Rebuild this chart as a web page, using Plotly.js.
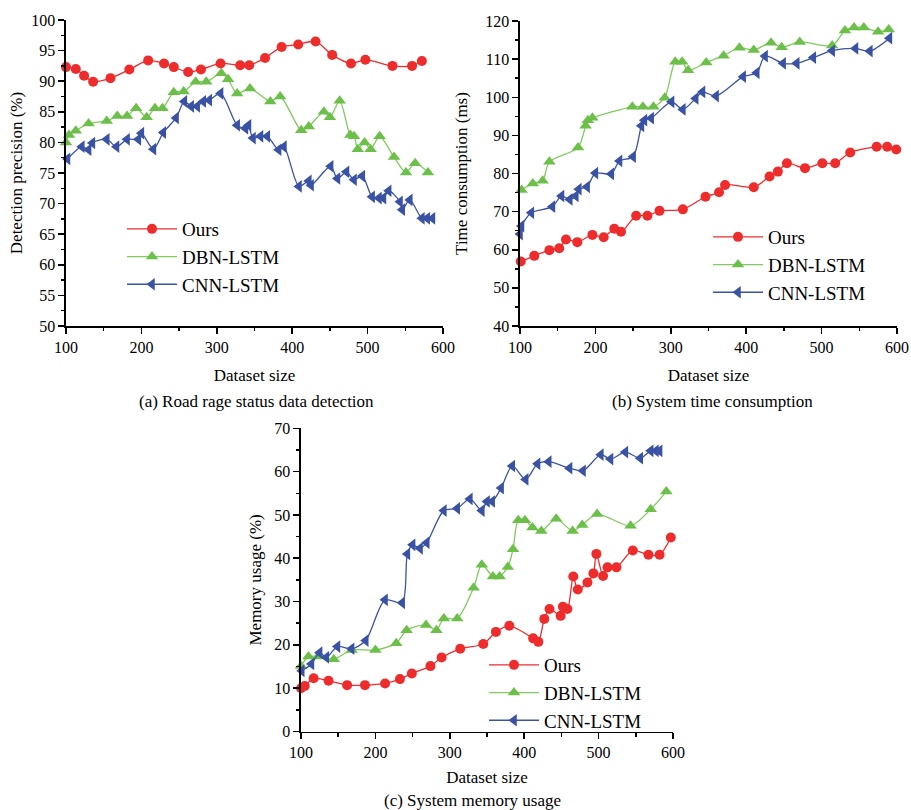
<!DOCTYPE html>
<html>
<head>
<meta charset="utf-8">
<script src="https://cdn.plot.ly/plotly-3.0.1.min.js"></script>
<style>html,body{margin:0;padding:0;background:#fff;}#chart{width:911px;height:810px;}</style>
</head>
<body>
<div id="chart"></div>
<script>
// ---------- Data ----------
const seriesNames = ["Ours", "DBN-LSTM", "CNN-LSTM"];
const xTickVals = [100, 200, 300, 400, 500, 600];

// (a) Road rage status data detection — Detection precision (%)
const oursA_x = [100,113,124,136,159,184,209,230,243,262,279,305,331,343,364,386,408,431,453,478,497,533,559,572];
const oursA_y = [92.3,92.0,90.9,89.9,90.5,91.9,93.4,92.9,92.3,91.5,91.9,92.9,92.6,92.6,93.8,95.6,96.0,96.5,94.3,92.9,93.5,92.5,92.5,93.3];
const dbnA_x = [100,104,113,130,154,168,181,193,207,218,228,243,256,272,286,306,315,327,344,371,384,412,422,442,450,463,477,482,487,496,504,516,535,551,563,580];
const dbnA_y = [80.0,81.2,81.9,83.1,83.5,84.3,84.3,85.6,84.1,85.6,85.6,88.2,88.3,89.9,89.9,91.3,90.3,88.0,88.8,86.7,87.5,82.0,82.6,85.0,84.1,86.8,81.2,81.0,78.9,80.0,78.9,81.0,77.6,75.1,76.6,75.1];
const cnnA_x = [102,121,130,135,154,167,181,196,200,216,229,246,257,266,274,282,290,305,327,338,342,348,358,367,382,389,409,422,425,451,460,472,482,493,506,515,521,528,543,546,556,572,579,586];
const cnnA_y = [77.3,79.3,78.8,79.9,80.5,79.3,80.5,80.5,81.5,78.9,81.6,84.0,86.7,85.9,85.9,86.7,86.9,88.0,82.8,82.3,82.8,80.7,81.0,81.0,78.8,79.3,72.8,73.7,73.0,76.1,74.1,75.2,73.9,74.5,71.1,70.9,70.9,72.1,70.3,69.0,70.6,67.6,67.6,67.6];

// (b) System time consumption — Time consumption (ms)
const oursB_x = [101,119,139,152,161,176,196,211,225,234,254,269,285,316,346,364,372,410,431,442,454,478,501,518,538,573,587,599];
const oursB_y = [56.9,58.4,59.9,60.4,62.7,62.0,63.9,63.3,65.5,64.7,68.9,68.9,70.2,70.6,73.9,75.1,77.0,76.4,79.2,80.5,82.7,81.4,82.7,82.7,85.5,87.0,87.0,86.3];
const dbnB_x = [102,117,130,139,177,187,190,196,249,263,277,292,306,315,323,347,370,391,410,433,447,471,514,531,543,556,575,589];
const dbnB_y = [75.7,77.4,78.1,83.1,86.8,92.5,94.0,94.6,97.5,97.5,97.5,99.9,109.3,109.3,107.1,109.1,110.9,113.0,112.4,114.3,113.1,114.5,113.6,117.5,118.3,118.3,117.2,117.8];
const cnnB_x = [100,102,115,143,155,166,174,178,189,200,221,232,250,261,265,274,301,316,333,342,360,396,414,425,449,467,489,514,545,564,590];
const cnnB_y = [64.1,66.2,69.7,71.3,74.1,73.2,74.1,75.9,76.5,80.1,79.9,83.3,84.4,92.5,94.0,94.5,98.8,96.8,99.7,101.4,100.3,105.4,106.4,110.8,108.9,108.9,110.4,112.2,112.8,112.1,115.5];

// (c) System memory usage — Memory usage (%)
const oursC_x = [100,105,117,137,162,186,213,233,249,274,289,314,345,362,380,412,419,427,434,449,452,458,466,472,485,493,497,506,512,524,546,567,582,597];
const oursC_y = [10.0,10.5,12.3,11.7,10.7,10.7,11.1,12.1,13.4,15.1,17.1,19.1,20.2,23.0,24.4,21.5,20.7,26.0,28.3,26.7,28.8,28.3,35.8,32.8,34.4,36.5,41.0,35.9,37.9,37.9,41.8,40.8,40.8,44.8];
const dbnC_x = [100,110,123,144,168,200,228,242,268,282,292,310,332,343,358,367,378,385,392,401,411,423,443,465,478,498,543,570,591];
const dbnC_y = [15.1,17.3,17.3,16.7,18.8,18.8,20.4,23.4,24.6,23.4,26.1,26.1,33.2,38.5,35.8,35.8,38.0,42.1,48.8,48.8,47.1,46.3,49.1,46.3,47.7,50.2,47.5,51.3,55.4];
const cnnC_x = [101,114,125,134,149,168,187,213,236,243,250,260,269,292,310,327,343,350,357,369,384,402,418,433,461,479,503,516,536,556,570,577,582];
const cnnC_y = [14.0,15.6,18.2,17.1,19.6,19.1,21.0,30.4,29.7,41.0,43.1,42.3,43.6,51.0,51.5,53.7,51.0,53.1,53.1,56.2,61.3,58.2,61.8,62.3,60.8,60.2,63.9,62.9,64.5,63.1,64.8,64.8,64.8];

// ---------- Styling ----------
const FONT = "Liberation Serif, Times New Roman, serif";
const colors = {ours: "#ee2c2c", dbn: "#6cc04a", dbnLine: "#7fcb5c", cnn: "#3a52a4"};
const W = 911, H = 810;
const px = v => v / W;
const py = v => 1 - v / H;

function mk(name, x, y, xa, ya, legend, kind) {
  let marker, line;
  if (kind === 0) {
    marker = {symbol: "circle", size: 10, color: colors.ours};
    line = {color: colors.ours, width: 1.3, shape: "spline", smoothing: 0.8};
  } else if (kind === 1) {
    marker = {symbol: "triangle-up", size: 11, color: colors.dbn};
    line = {color: colors.dbnLine, width: 1.3, shape: "spline", smoothing: 0.8};
  } else {
    marker = {symbol: "triangle-left", size: 11, color: colors.cnn};
    line = {color: colors.cnn, width: 1.3, shape: "spline", smoothing: 0.8};
  }
  return {type: "scatter", mode: "lines+markers", name, x, y, xaxis: xa, yaxis: ya,
          legend, marker, line, cliponaxis: false, showlegend: true};
}

const traces = [
  mk(seriesNames[0], oursA_x, oursA_y, "x", "y", "legend", 0),
  mk(seriesNames[1], dbnA_x, dbnA_y, "x", "y", "legend", 1),
  mk(seriesNames[2], cnnA_x, cnnA_y, "x", "y", "legend", 2),
  mk(seriesNames[0], oursB_x, oursB_y, "x2", "y2", "legend2", 0),
  mk(seriesNames[1], dbnB_x, dbnB_y, "x2", "y2", "legend2", 1),
  mk(seriesNames[2], cnnB_x, cnnB_y, "x2", "y2", "legend2", 2),
  mk(seriesNames[0], oursC_x, oursC_y, "x3", "y3", "legend3", 0),
  mk(seriesNames[1], dbnC_x, dbnC_y, "x3", "y3", "legend3", 1),
  mk(seriesNames[2], cnnC_x, cnnC_y, "x3", "y3", "legend3", 2)
];

const tickFont = {family: FONT, size: 16, color: "#000"};
const titleFont = {family: FONT, size: 17, color: "#000"};

function xAxis(domain, anchor, standoff) {
  return {domain, anchor, range: [100, 600], tickvals: xTickVals, ticktext: xTickVals.map(String),
    showline: true, linecolor: "#000", linewidth: 1.6, ticks: "outside", ticklen: 6, tickwidth: 1.5,
    tickcolor: "#000", showgrid: false, zeroline: false, tickfont: tickFont,
    minor: {ticks: "outside", dtick: 50, tick0: 100, ticklen: 3.5, tickwidth: 1.5, tickcolor: "#000", showgrid: false},
    title: {text: "Dataset size", font: titleFont, standoff}};
}
function yAxis(domain, anchor, range, dtick, mdtick, title, standoff) {
  return {domain, anchor, range, dtick, tick0: range[0],
    showline: true, linecolor: "#000", linewidth: 1.6, ticks: "outside", ticklen: 6, tickwidth: 1.5,
    tickcolor: "#000", showgrid: false, zeroline: false, tickfont: tickFont,
    minor: {ticks: "outside", dtick: mdtick, tick0: range[0], ticklen: 3.5, tickwidth: 1.5, tickcolor: "#000", showgrid: false},
    title: {text: title, font: titleFont, standoff}};
}

const legendBase = {font: {family: FONT, size: 19, color: "#000"}, bgcolor: "rgba(0,0,0,0)",
  xanchor: "left", yanchor: "top", itemwidth: 50, tracegroupgap: 0, itemclick: false};

const layout = {
  width: W, height: H,
  margin: {l: 0, r: 0, t: 0, b: 0},
  paper_bgcolor: "#fff", plot_bgcolor: "#fff",
  font: {family: FONT, color: "#000"},
  xaxis: xAxis([px(66), px(443)], "y", 14),
  yaxis: yAxis([py(326), py(20)], "x", [50, 100], 5, 2.5, "Detection precision (%)", 4),
  xaxis2: xAxis([px(520), px(897)], "y2", 14),
  yaxis2: yAxis([py(326), py(21)], "x2", [40, 120], 10, 5, "Time consumption (ms)", 13),
  xaxis3: xAxis([px(301), px(673)], "y3", 11),
  yaxis3: yAxis([py(731.5), py(428.3)], "x3", [0, 70], 10, 5, "Memory usage (%)", 8),
  legend: Object.assign({}, legendBase, {x: px(122), y: py(210)}),
  legend2: Object.assign({}, legendBase, {x: px(708), y: py(218)}),
  legend3: Object.assign({}, legendBase, {x: px(484), y: py(646)}),
  annotations: [
    {text: "(a) Road rage status data detection", x: px(256), y: py(401), xref: "paper", yref: "paper",
     showarrow: false, font: titleFont, xanchor: "center", yanchor: "middle"},
    {text: "(b) System time consumption", x: px(712), y: py(401), xref: "paper", yref: "paper",
     showarrow: false, font: titleFont, xanchor: "center", yanchor: "middle"},
    {text: "(c) System memory usage", x: px(472), y: py(800), xref: "paper", yref: "paper",
     showarrow: false, font: titleFont, xanchor: "center", yanchor: "middle"}
  ],
  showlegend: true
};

Plotly.newPlot("chart", traces, layout, {staticPlot: true, displayModeBar: false});
</script>
</body>
</html>
